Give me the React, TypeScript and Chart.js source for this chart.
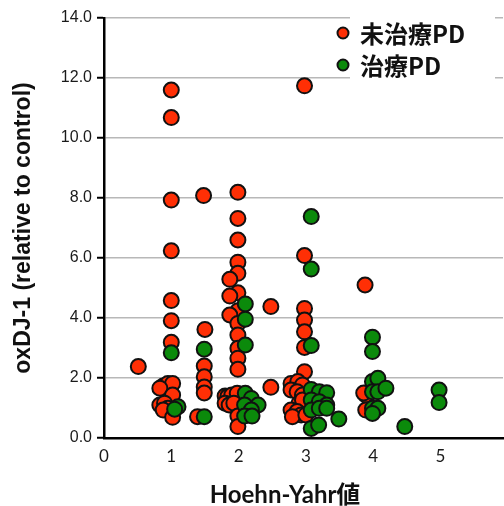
import React, { useEffect, useRef } from 'react';
import { Chart, registerables } from 'chart.js';

Chart.register(...registerables);

const xTickLabels = ['0', '1', '2', '3', '4', '5'];
const yTickValues = [0, 2, 4, 6, 8, 10, 12, 14];
const xTitle = 'Hoehn-Yahr値';
const yTitle = 'oxDJ-1 (relative to control)';

const seriesLabels = ['未治療PD', '治療PD'];
const seriesColors = ['#ff2f05', '#0b8a0b'];

// 未治療PD (untreated)
const untreatedX = [
  0.51,
  1.0, 1.0, 1.0, 1.0, 1.0, 1.0, 1.0,
  0.88, 0.95, 1.02, 0.83, 1.02, 0.83, 0.9, 0.95, 0.88, 1.02,
  1.48, 1.5, 1.49, 1.49, 1.49, 1.49, 1.39,
  1.99, 1.99, 1.99, 1.99, 1.99, 1.87, 1.99, 1.87, 1.99, 1.87, 1.99, 1.99, 1.99, 1.99, 1.99,
  1.8, 1.84, 1.9, 1.98, 1.8, 1.86, 1.93, 1.99, 1.99,
  2.48, 2.48,
  2.98, 2.98, 2.98, 2.98, 2.98, 2.98, 2.98,
  2.78, 2.88, 2.95, 2.78, 2.87, 2.95, 2.9, 2.95, 2.78, 2.87, 2.93, 2.8, 3.0,
  3.88, 3.89, 3.89, 3.86,
];
const untreatedY = [
  2.38,
  11.6, 10.68, 7.93, 6.24, 4.58, 3.91, 3.19,
  1.73, 1.82, 1.82, 1.66, 1.43, 1.1, 1.16, 0.99, 0.93, 0.69,
  8.08, 3.62, 2.4, 2.04, 1.7, 1.5, 0.71,
  8.19, 7.32, 6.6, 5.86, 5.49, 5.29, 4.84, 4.73, 4.24, 4.1, 3.82, 3.43, 2.99, 2.66, 2.29,
  1.4, 1.38, 1.43, 1.49, 1.16, 1.1, 1.16, 0.73, 0.38,
  4.38, 1.69,
  11.74, 6.08, 4.32, 3.93, 3.54, 3.02, 2.21,
  1.82, 1.88, 1.77, 1.6, 1.54, 1.43, 1.16, 1.27, 0.93, 0.88, 0.77, 0.71, 0.77,
  5.1, 1.43, 0.93, 1.5,
];

// 治療PD (treated)
const treatedX = [
  1.0, 1.1, 1.05,
  1.49, 1.49,
  2.1, 2.1, 2.1, 2.1, 2.19, 2.29, 2.09, 2.19, 2.09, 2.2,
  3.08, 3.08, 3.08, 3.08, 3.2, 3.31, 3.08, 3.2, 3.31, 3.08, 3.2, 3.31, 3.08, 3.19, 3.49,
  3.99, 3.99, 3.99, 4.07, 3.99, 4.07, 4.19, 3.99, 4.07, 3.99, 4.47,
  4.98, 4.98,
];
const treatedY = [
  2.84, 1.04, 0.96,
  2.96, 0.71,
  4.47, 3.96, 3.1, 1.49, 1.32, 1.1, 1.1, 0.93, 0.73, 0.73,
  7.38, 5.63, 3.08, 1.62, 1.54, 1.51, 1.27, 1.21, 1.1, 0.93, 0.99, 0.99, 0.32, 0.43, 0.63,
  3.36, 2.88, 1.88, 1.99, 1.54, 1.54, 1.66, 0.99, 0.99, 0.82, 0.38,
  1.6, 1.18,
];

const toPoints = (xs: number[], ys: number[]) => xs.map((x, i) => ({ x, y: ys[i] }));

const legendPlugin = {
  id: 'boxLegend',
  afterDraw(chart: any) {
    const { ctx, chartArea } = chart;
    const right = chartArea.right;
    ctx.save();
    ctx.fillStyle = '#ffffff';
    ctx.fillRect(right - 153, chartArea.top - 8, 145, 74);
    chart.data.datasets.forEach((ds: any, i: number) => {
      const y = chartArea.top + 15 + i * 32;
      const x = right - 160;
      ctx.beginPath();
      ctx.arc(x, y, 5.5, 0, Math.PI * 2);
      ctx.fillStyle = ds.backgroundColor;
      ctx.fill();
      ctx.lineWidth = 2;
      ctx.strokeStyle = '#111';
      ctx.stroke();
      ctx.font = 'bold 24px "Noto Sans CJK JP", sans-serif';
      ctx.fillStyle = '#111';
      ctx.textBaseline = 'middle';
      ctx.textAlign = 'left';
      ctx.fillText(ds.label, x + 17, y + 1);
    });
    ctx.restore();
  },
};

const xTitlePlugin = {
  id: 'xTitle',
  afterDraw(chart: any) {
    const { ctx, chartArea } = chart;
    ctx.save();
    ctx.font = 'bold 24px Lato, "Noto Sans CJK JP", sans-serif';
    ctx.fillStyle = '#111';
    ctx.textAlign = 'center';
    ctx.textBaseline = 'middle';
    ctx.fillText(xTitle, chartArea.left + 181, chartArea.bottom + 57);
    ctx.restore();
  },
};

export default function App() {
  const canvasRef = useRef<HTMLCanvasElement | null>(null);

  useEffect(() => {
    document.body.style.margin = '0';
    const canvas = canvasRef.current;
    if (!canvas) return;
    const chart = new Chart(canvas, {
      type: 'scatter',
      data: {
        datasets: [
          {
            label: seriesLabels[0],
            data: toPoints(untreatedX, untreatedY),
            backgroundColor: seriesColors[0],
            borderColor: '#111',
            borderWidth: 2,
            pointRadius: 7.5,
            order: 2,
          },
          {
            label: seriesLabels[1],
            data: toPoints(treatedX, treatedY),
            backgroundColor: seriesColors[1],
            borderColor: '#111',
            borderWidth: 2,
            pointRadius: 7.5,
            order: 1,
          },
        ],
      },
      options: {
        animation: false,
        responsive: false,
        devicePixelRatio: 1,
        layout: { autoPadding: false, padding: { top: 18, right: 1, left: 0, bottom: 0 } },
        plugins: {
          legend: { display: false },
          tooltip: { enabled: false },
        },
        scales: {
          x: {
            type: 'linear',
            min: 0,
            max: 5.93,
            afterFit: (scale: any) => {
              scale.height = 68;
              scale.paddingLeft = 0;
              scale.paddingRight = 0;
            },
            afterBuildTicks: (scale: any) => {
              scale.ticks = xTickLabels.map((t) => ({ value: Number(t) }));
            },
            grid: { display: false, drawTicks: false },
            border: { display: true, color: '#000', width: 2.5 },
            ticks: {
              padding: 8,
              color: '#1a1a1a',
              font: { family: 'Lato, "Open Sans", sans-serif', size: 17 },
              callback: (v: any) => String(v),
            },
            title: { display: false, text: xTitle },
          },
          y: {
            type: 'linear',
            min: 0,
            max: 14,
            afterFit: (scale: any) => {
              scale.width = 104;
              scale.paddingTop = 0;
              scale.paddingBottom = 0;
            },
            afterBuildTicks: (scale: any) => {
              scale.ticks = yTickValues.map((v) => ({ value: v }));
            },
            grid: {
              color: '#b8b8b8',
              lineWidth: 1.5,
              drawTicks: true,
              tickLength: 7,
              tickColor: '#000',
              tickWidth: 2,
            },
            border: { display: true, color: '#000', width: 2.5 },
            ticks: {
              padding: 5,
              color: '#1a1a1a',
              font: { family: '"Liberation Sans", Arial, sans-serif', size: 16 },
              callback: (v: any) => Number(v).toFixed(1),
            },
            title: {
              display: true,
              text: yTitle,
              color: '#111',
              padding: { top: 10, bottom: 0 },
              font: { family: '"Liberation Sans", Arial, sans-serif', size: 23, weight: 'bold' },
            },
          },
        },
      },
      plugins: [legendPlugin, xTitlePlugin],
    });
    return () => chart.destroy();
  }, []);

  return (
    <div style={{ width: 504, height: 506, position: 'relative' }}>
      <canvas ref={canvasRef} width={504} height={506} />
    </div>
  );
}
